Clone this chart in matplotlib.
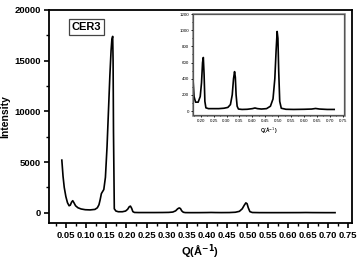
import matplotlib
matplotlib.use('Agg')
import matplotlib.pyplot as plt
from matplotlib.ticker import MultipleLocator, FormatStrFormatter
from matplotlib.patches import Rectangle

plt.rcParams['font.family'] = ['Liberation Sans', 'DejaVu Sans']

# SAXS profile
q = [0.040, 0.043, 0.046, 0.050, 0.054, 0.058, 0.061, 0.064, 0.067, 0.070,
     0.074, 0.080, 0.088, 0.098, 0.110, 0.122, 0.128, 0.132, 0.135, 0.138,
     0.141, 0.144, 0.148, 0.152, 0.156, 0.159, 0.162, 0.164, 0.166, 0.167,
     0.168, 0.170, 0.174, 0.180, 0.190, 0.198, 0.203, 0.207, 0.210, 0.213,
     0.216, 0.220, 0.230, 0.250, 0.270, 0.290, 0.305, 0.315, 0.322, 0.327,
     0.331, 0.334, 0.337, 0.341, 0.346, 0.360, 0.380, 0.400, 0.410, 0.420,
     0.435, 0.455, 0.470, 0.480, 0.487, 0.492, 0.496, 0.499, 0.502, 0.506,
     0.512, 0.530, 0.560, 0.600, 0.630, 0.645, 0.660, 0.690, 0.717]
intensity = [5200, 3600, 2500, 1600, 1000, 700, 760, 1050, 1200, 1000,
             700, 500, 380, 310, 290, 340, 500, 800, 1300, 1900,
             2100, 2300, 3500, 6500, 10500, 13500, 16000, 17100, 17400, 15000,
             8000, 400, 180, 110, 110, 180, 350, 600, 663, 450,
             120, 40, 30, 30, 30, 35, 45, 80, 200, 400,
             488, 420, 200, 60, 25, 20, 22, 30, 38, 30,
             25, 30, 60, 150, 400, 750, 985, 900, 500, 120,
             35, 22, 20, 22, 25, 32, 25, 20, 20]

fig = plt.figure(figsize=(3.59, 2.61), dpi=100)
ax = fig.add_axes([0.1357, 0.1456, 0.8448, 0.8161])
ax.plot(q, intensity, color='black', lw=1.2)
ax.set_xlim(0.0075, 0.759)
ax.set_ylim(-1000, 20000)
ax.xaxis.set_major_locator(MultipleLocator(0.05))
ax.xaxis.set_minor_locator(MultipleLocator(0.025))
ax.xaxis.set_major_formatter(FormatStrFormatter('%.2f'))
ax.yaxis.set_major_locator(MultipleLocator(5000))
ax.yaxis.set_minor_locator(MultipleLocator(2500))
ax.tick_params(which='major', length=3.5, width=1.2, labelsize=6.8, pad=2)
ax.tick_params(which='minor', length=2, width=1.0)
for lab in ax.get_xticklabels() + ax.get_yticklabels():
    lab.set_fontweight('bold')
for s in ax.spines.values():
    s.set_linewidth(1.3)
ax.set_xlabel('Q(Å$^{\\mathbf{-1}}$)', fontsize=8, fontweight='bold', labelpad=2)
ax.set_ylabel('Intensity', fontsize=7.5, fontweight='bold', labelpad=3)
ax.text(0.075, 0.92, 'CER3', transform=ax.transAxes, fontsize=8, fontweight='bold',
        va='center', ha='left',
        bbox=dict(boxstyle='square,pad=0.25', fc='white', ec='#444444', lw=0.9))

# inset
ins = fig.add_axes([0.5376, 0.559, 0.4206, 0.387])
ins.plot(q, intensity, color='black', lw=1.2)
ins.set_xlim(0.17, 0.755)
ins.set_ylim(-50, 1200)
ins.xaxis.set_major_locator(MultipleLocator(0.05))
ins.xaxis.set_minor_locator(MultipleLocator(0.025))
ins.xaxis.set_major_formatter(FormatStrFormatter('%.2f'))
ins.yaxis.set_major_locator(MultipleLocator(200))
ins.yaxis.set_minor_locator(MultipleLocator(100))
ins.tick_params(which='major', length=1.5, width=0.6, labelsize=3.2, pad=1.5)
ins.tick_params(which='minor', length=1, width=0.5)
for s in ins.spines.values():
    s.set_linewidth(0.9)
    s.set_color('#555555')
ins.set_xlabel('Q(Å$^{-1}$)', fontsize=3.5, fontweight='bold', labelpad=1.5)
ins.add_patch(Rectangle((-0.005, -0.006), 1.01, 1.012, transform=ins.transAxes,
                        fill=False, ec='#999999', lw=0.6, clip_on=False))

fig.savefig('out.png', dpi=100)
